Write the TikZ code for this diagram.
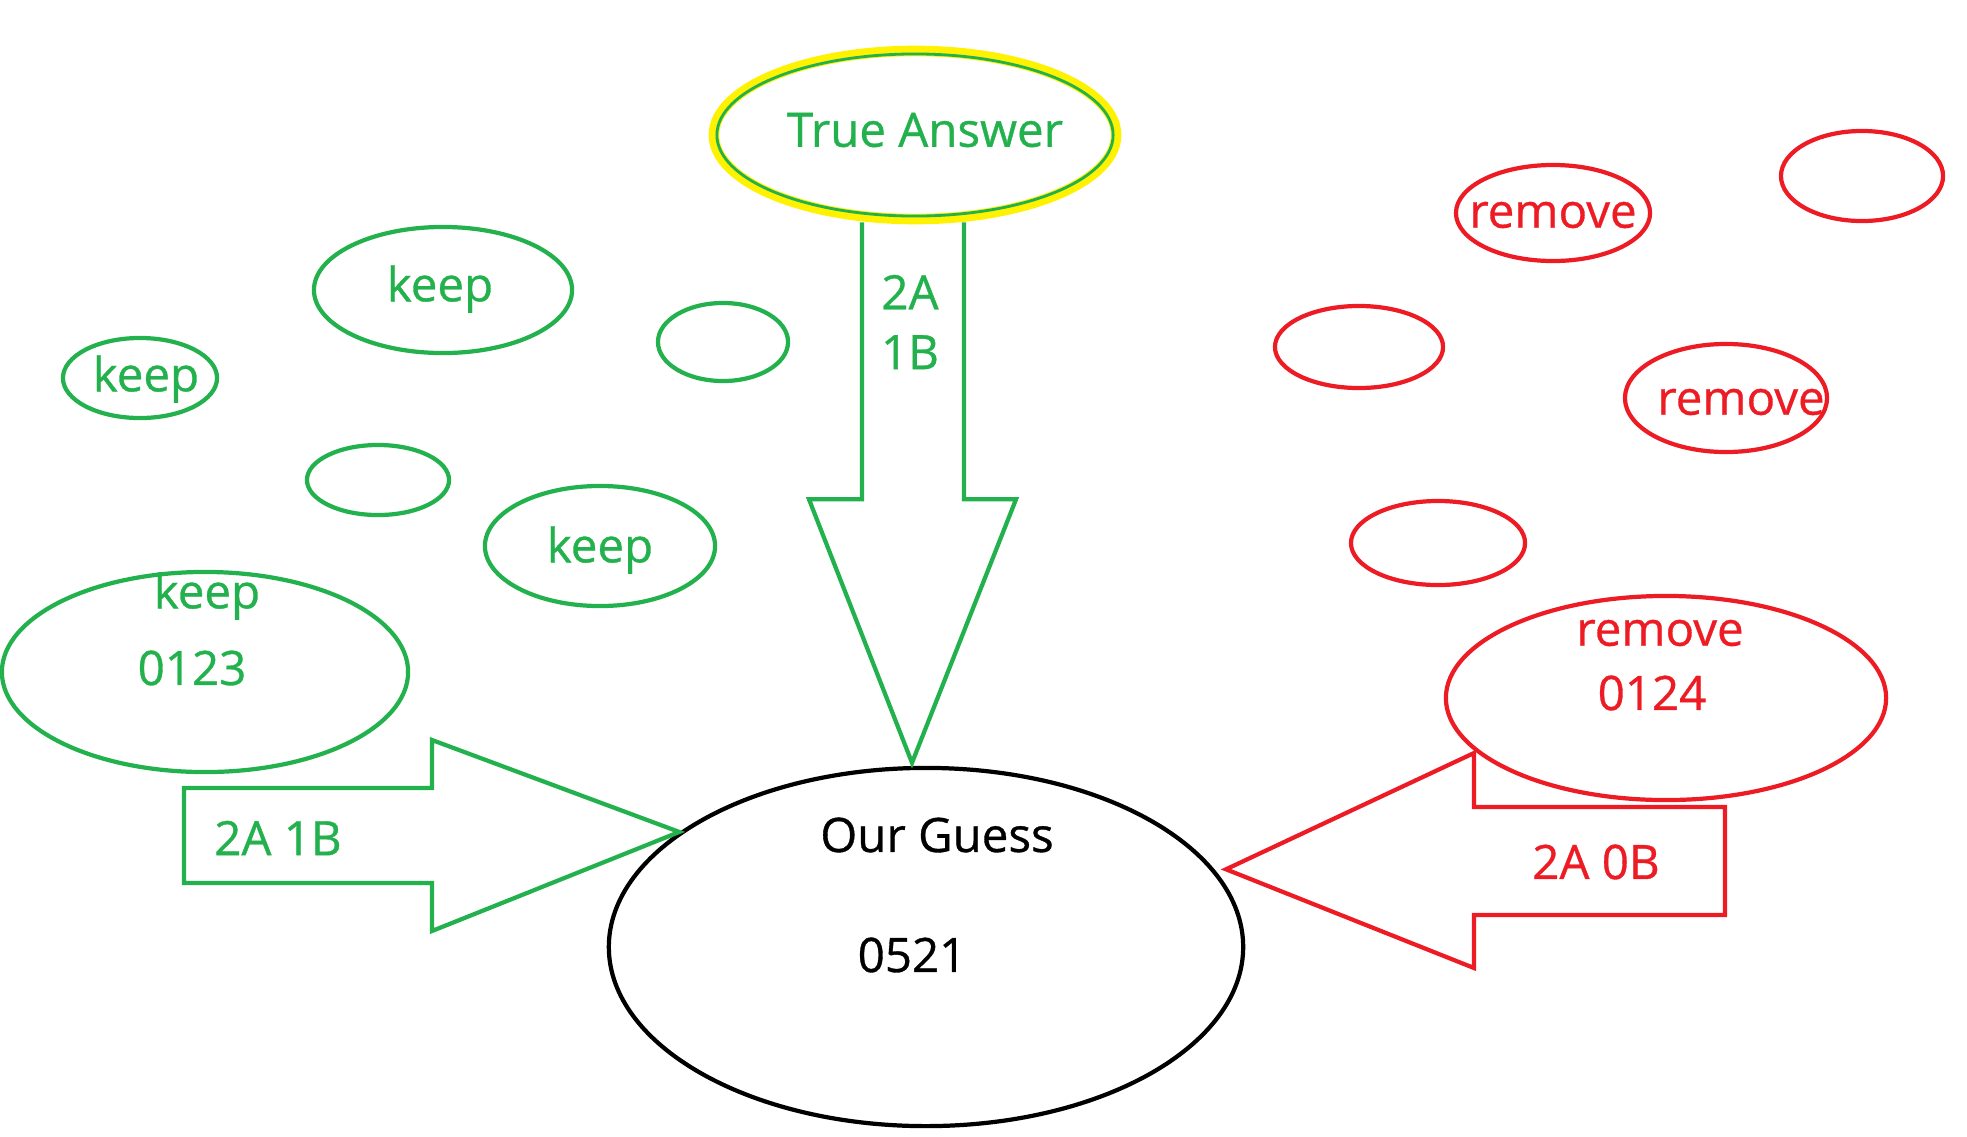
\documentclass[tikz,border=0pt]{standalone}
\usepackage{fontspec}
\setmainfont{Open Sans}[FakeBold=0.7]
\usepackage{tikz}
\usetikzlibrary{calc}
\usetikzlibrary{shapes.geometric}
\definecolor{paintgreen}{RGB}{34,177,76}
\definecolor{paintred}{RGB}{237,28,36}
\definecolor{paintyellow}{RGB}{255,242,0}

\begin{document}
\begin{tikzpicture}[x=0.01cm, y=-0.01cm, line width=1.2pt,
        font=\fontsize{13.5}{17}\selectfont,
        goodoval/.style={ellipse, draw=paintgreen, inner sep=0pt},
        badoval/.style={ellipse, draw=paintred, inner sep=0pt},
        goodtxt/.style={text=paintgreen, inner sep=0pt},
        badtxt/.style={text=paintred, inner sep=0pt}]
        \useasboundingbox (0,0) rectangle (1967,1136);

        % answer and guess
        \node[minimum width=4.02cm, minimum height=1.68cm, line width=3pt, draw=paintyellow] at (915,135) [ellipse] (answer) {};
        \node[minimum width=3.96cm, minimum height=1.62cm] at (915,135) [goodoval, line width=0.8pt] (answerline) {};
        \node[goodtxt] at (925,130) (answertxt) {True Answer};
        \node[minimum width=6.34cm, minimum height=3.58cm] at (926,947) [ellipse,draw=black] (guess) {};
        \node[inner sep=0pt] at (937,835) (guesstxt) {Our Guess};
        \node[inner sep=0pt] at (912,955) (guessnum) {0521};

        % kept candidates
        \node[minimum width=4.06cm, minimum height=2cm] at (205,672) [goodoval] (keepbig) {};
        \node[goodtxt] at (207,596) (keepbigtxt) {keep};
        \node[goodtxt] at (192,668) (keepbignum) {0123};
        \node[minimum width=2.58cm, minimum height=1.26cm] at (443,290) [goodoval] (keepa) {};
        \node[goodtxt] at (440,289) (keepatxt) {keep};
        \node[minimum width=1.54cm, minimum height=0.8cm] at (140,378) [goodoval] (keepb) {};
        \node[goodtxt] at (146,379) (keepbtxt) {keep};
        \node[minimum width=1.3cm, minimum height=0.78cm] at (723,342) [goodoval] (keepc) {};
        \node[minimum width=1.42cm, minimum height=0.7cm] at (378,480) [goodoval] (keepd) {};
        \node[minimum width=2.3cm, minimum height=1.2cm] at (600,546) [goodoval] (keepe) {};
        \node[goodtxt] at (600,550) (keepetxt) {keep};

        % removed candidates
        \node[minimum width=4.4cm, minimum height=2.04cm] at (1666,698) [badoval] (removebig) {};
        \node[badtxt] at (1660,633) (removebigtxt) {remove};
        \node[badtxt] at (1652,693) (removebignum) {0124};
        \node[minimum width=1.94cm, minimum height=0.96cm] at (1553,213) [badoval] (removea) {};
        \node[badtxt] at (1553,215) (removeatxt) {remove};
        \node[minimum width=1.62cm, minimum height=0.9cm] at (1862,176) [badoval] (removeb) {};
        \node[minimum width=1.68cm, minimum height=0.82cm] at (1359,347) [badoval] (removec) {};
        \node[minimum width=2.02cm, minimum height=1.08cm] at (1726,398) [badoval] (removed) {};
        \node[badtxt] at (1741,402) (removedtxt) {remove};
        \node[minimum width=1.74cm, minimum height=0.84cm] at (1438,543) [badoval] (removee) {};

        % block arrows
        \draw[paintgreen] ($(answer.south)+(-53,-2)$) -- ($(answer.south)+(-53,275)$) -- ($(answer.south)+(-106,275)$) -- ($(guess.north)+(-14,-3)$) -- ($(answer.south)+(101,275)$) -- ($(answer.south)+(49,275)$) -- ($(answer.south)+(49,-2)$);
        \node[goodtxt, align=center] at (910,322) (answerscore) {2A\\1B};
        \draw[paintgreen] (184,788) -- (432,788) -- (432,740) -- (guess.155) -- (432,931) -- (432,883) -- (184,883) -- cycle;
        \node[goodtxt] at (278,838) (keepscore) {2A 1B};
        \draw[paintred] (1725,807) -- (1474,807) -- (1474,753) -- ($(guess.16)+(15,4)$) -- (1474,968) -- (1474,915) -- (1725,915) -- cycle;
        \node[badtxt] at (1596,862) (removescore) {2A 0B};
    \end{tikzpicture}
\end{document}
